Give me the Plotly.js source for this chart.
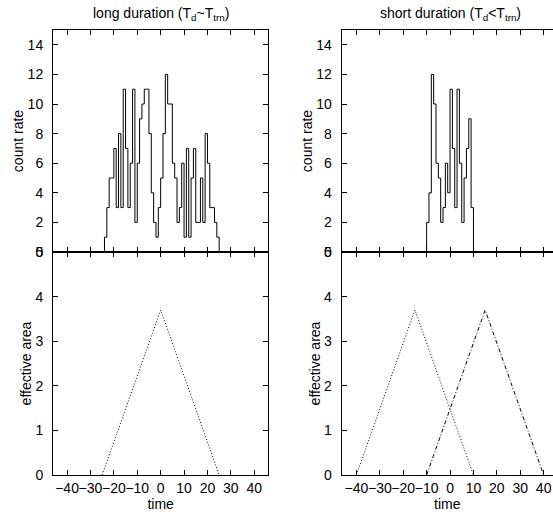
<!DOCTYPE html>
<html><head><meta charset="utf-8">
<script src="https://cdn.plot.ly/plotly-3.0.1.min.js"></script>
<style>html,body{margin:0;padding:0;background:#fff}</style>
</head><body><div id="chart" style="width:553px;height:517px"></div>
<script>
// ---- data ----
const longBinLeft = [-24,-23,-22,-21,-20,-19,-18,-17,-16,-15,-14,-13,-12,-11,-10,-9,-8,-7,-6,-5,-4,-3,-2,-1,
  0,1,2,3,4,5,6,7,8,9,10,11,12,13,14,15,16,17,18,19,20,21,22,23,24];
const longCounts = [1,3,5,5,7,3,8,3,11,7,3,6,11,2,6,9,10,11,11,8,4,2,1,3,
  5,8,12,10,10,6,5,2,3,6,1,7,1,5,7,2,2,5,2,8,6,3,3,2,1];
const shortBinLeft = [-10,-9,-8,-7,-6,-5,-4,-3,-2,-1,0,1,2,3,4,5,6,7,8,9];
const shortCounts = [2,4,12,10,6,5,2,3,6,4,11,7,3,11,6,2,5,7,9,3];
const binWidth = 1;

const longAreaX = [-25, 0, 25];
const longAreaY = [0, 3.7, 0];
const shortAreaAX = [-40, -15, 10];
const shortAreaAY = [0, 3.7, 0];
const shortAreaBX = [-10, 15, 40];
const shortAreaBY = [0, 3.7, 0];

const xTicks = [-40,-30,-20,-10,0,10,20,30,40];
const countTicks = [0,2,4,6,8,10,12,14];
const areaTicks = [0,1,2,3,4,5];

// ---- build step outlines ----
function stepXY(left, counts) {
  const x = [left[0]], y = [0];
  for (let i = 0; i < left.length; i++) { x.push(left[i]); y.push(counts[i]); }
  const end = left[left.length - 1] + binWidth;
  x.push(end); y.push(counts[counts.length - 1]);
  x.push(end); y.push(0);
  return {x, y};
}
const sl = stepXY(longBinLeft, longCounts);
const ss = stepXY(shortBinLeft, shortCounts);

const blk = '#000';
const dotted = '1px,2px';
const dashdot = '4px,2px,1px,2px';
const traces = [
  {x: sl.x, y: sl.y, xaxis: 'x2', yaxis: 'y2', mode: 'lines', line: {shape: 'hv', color: blk, width: 1}},
  {x: longAreaX, y: longAreaY, xaxis: 'x', yaxis: 'y', mode: 'lines', line: {color: blk, width: 1, dash: dotted}},
  {x: ss.x, y: ss.y, xaxis: 'x4', yaxis: 'y4', mode: 'lines', line: {shape: 'hv', color: blk, width: 1}},
  {x: shortAreaAX, y: shortAreaAY, xaxis: 'x3', yaxis: 'y3', mode: 'lines', line: {color: blk, width: 1, dash: dotted}},
  {x: shortAreaBX, y: shortAreaBY, xaxis: 'x3', yaxis: 'y3', mode: 'lines', line: {color: blk, width: 1, dash: dashdot}}
];

const W = 553, H = 517;
const leftDom = [53 / W, 268.3 / W];
const rightDom = [341.7 / W, 1];
const topDom = [(H - 252) / H, (H - 30) / H];
const botDom = [(H - 475) / H, (H - 252) / H];
const font = {family: 'Liberation Sans, Arial, sans-serif', size: 14, color: blk};

function xa(dom, anchor, range, labels) {
  const a = {domain: dom, anchor: anchor, range: range, tickvals: xTicks, showticklabels: labels,
    tickangle: 0, ticks: 'inside', ticklen: 5, tickcolor: blk, showline: true, linecolor: blk, linewidth: 1,
    mirror: 'ticks', showgrid: false, zeroline: false, tickfont: font, ticklabelstandoff: 0};
  if (labels) a.title = {text: 'time', font: font, standoff: 0};
  return a;
}
function ya(dom, anchor, range, ticks, title, mirror) {
  return {domain: dom, anchor: anchor, range: range, tickvals: ticks,
    ticks: 'inside', ticklen: 5, tickcolor: blk, showline: true, linecolor: blk, linewidth: 1,
    mirror: mirror, showgrid: false, zeroline: false, tickfont: font, ticklabelstandoff: 6,
    title: {text: title, font: font, standoff: 0}};
}

const layout = {
  width: W, height: H, margin: {l: 0, r: 0, t: 0, b: 0},
  paper_bgcolor: '#fff', plot_bgcolor: '#fff', showlegend: false, font: font,
  xaxis: xa(leftDom, 'y', [-46, 46], true),
  yaxis: ya(botDom, 'x', [0, 5], areaTicks, 'effective area', 'ticks'),
  xaxis2: xa(leftDom, 'y2', [-46, 46], false),
  yaxis2: ya(topDom, 'x2', [0, 15], countTicks, 'count rate', 'ticks'),
  xaxis3: xa(rightDom, 'y3', [-46.3, 44.0], true),
  yaxis3: ya(botDom, 'x3', [0, 5], areaTicks, 'effective area', false),
  xaxis4: xa(rightDom, 'y4', [-46.3, 44.0], false),
  yaxis4: ya(topDom, 'x4', [0, 15], countTicks, 'count rate', false),
  annotations: [
    {text: 'long duration (T<sub>d</sub>~T<sub>trn</sub>)', xref: 'x2', yref: 'paper', x: 0, y: (H - 14) / H,
     xanchor: 'center', yanchor: 'middle', showarrow: false, font: font},
    {text: 'short duration (T<sub>d</sub>&lt;T<sub>trn</sub>)', xref: 'x4', yref: 'paper', x: 0, y: (H - 14) / H,
     xanchor: 'center', yanchor: 'middle', showarrow: false, font: font}
  ]
};

Plotly.newPlot('chart', traces, layout, {displayModeBar: false, staticPlot: true});
</script></body></html>
